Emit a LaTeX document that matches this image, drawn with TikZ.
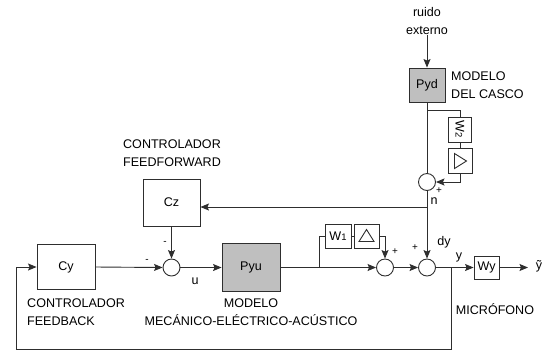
\documentclass[tikz,border=0pt]{standalone}
\usepackage{fontspec}
\setmainfont{Liberation Sans}
\usetikzlibrary{arrows.meta,positioning,calc}
\definecolor{lineGray}{HTML}{2E2E2E}
\definecolor{plantGray}{HTML}{BFBFBF}
\newcommand{\labelfont}{\fontsize{12.6}{18}\selectfont}
\newcommand{\smallsub}[1]{{\fontsize{9.5}{9.5}\selectfont #1}}
\tikzset{
  wire/.style={draw=lineGray,line width=0.9bp},
  sig/.style={wire,-{Stealth[length=8.5bp,width=7bp,inset=1.5bp]}},
  blockbox/.style={draw=lineGray,line width=0.9bp,inner sep=0pt,font=\labelfont},
  plantbox/.style={blockbox,fill=plantGray},
  sumnode/.style={circle,draw=lineGray,line width=0.9bp,minimum size=17bp,inner sep=0pt},
  caption/.style={font=\labelfont,align=left,inner sep=0pt},
  signame/.style={font=\labelfont,inner sep=1pt},
  signmark/.style={font=\fontsize{10}{10}\selectfont,inner sep=0pt},
  deltamark/.style={wire,line join=miter}
}

\begin{document}
\begin{tikzpicture}[x=1bp,y=-1bp]
  \useasboundingbox (0,0) rectangle (547,356);
  % casco
  \node[caption,align=center] (noise) at (427,21) {ruido\\externo};
  \node[plantbox,minimum width=36bp,minimum height=34bp] (pyd) at (427,85) {Pyd};
  \node[caption,anchor=west] (cascocap) at (451,85) {MODELO\\DEL CASCO};
  \node[blockbox,rotate=-90,minimum width=25bp,minimum height=23bp] (w2) at (460,129.5) {W\smallsub{2}};
  \node[blockbox,minimum width=24bp,minimum height=25bp] (dlt2) at (460,161) {};
  \draw[deltamark] ($(dlt2.center)+(-5.5,-7.5)$) -- ($(dlt2.center)+(6.5,0)$) -- ($(dlt2.center)+(-5.5,7.5)$) -- cycle;
  \node[sumnode] (sumn) at (427,182) {};
  \coordinate (w2tap) at (427,110);
  \coordinate (ntap) at (427,207);
  \draw[sig] (noise.south) -- (pyd.north);
  \draw[wire] (pyd.south) -- (sumn.north);
  \draw[wire] (w2tap) -| (w2.west);
  \draw[wire] (w2.east) -- (dlt2.north);
  \draw[sig] (dlt2.south) |- (sumn.east);
  \node[signmark] at (439,191) {+};
  \node[signame] at (434,201) {n};
  \draw[wire] (sumn.south) -- (ntap);
  % controladores
  \node[blockbox,minimum width=57bp,minimum height=47bp] (cz) at (171.5,202.5) {Cz};
  \node[caption,align=center] (ffcap) at (172,153) {CONTROLADOR\\FEEDFORWARD};
  \node[blockbox,minimum width=58bp,minimum height=45bp] (cy) at (66,267) {Cy};
  \node[caption,anchor=west] (fbcap) at (27,312) {CONTROLADOR\\FEEDBACK};
  \node[sumnode] (sumu) at (171.5,267.5) {};
  \draw[sig] (ntap) -- (ntap -| cz.east);
  \draw[sig] (cz.south) -- (sumu.north);
  \node[signmark] at (165,243) {-};
  \draw[sig] (cy.east) -- (sumu.west);
  \node[signmark] at (147,261) {-};
  % planta
  \node[plantbox,minimum width=58bp,minimum height=48bp] (pyu) at (251,267.5) {Pyu};
  \node[caption,align=center] (plantcap) at (251,312) {MODELO\\MECÁNICO-ELÉCTRICO-ACÚSTICO};
  \draw[sig] (sumu.east) -- (pyu.west);
  \node[signame] at (195,281) {u};
  \node[blockbox,minimum width=26bp,minimum height=24bp] (w1) at (338,236) {W\smallsub{1}};
  \node[blockbox,minimum width=25bp,minimum height=24bp] (dlt1) at (366.5,236) {};
  \draw[deltamark] ($(dlt1.center)+(-7.5,5.5)$) -- ($(dlt1.center)+(7.5,5.5)$) -- ($(dlt1.center)+(0,-6.5)$) -- cycle;
  \node[sumnode] (sumw) at (385,267.5) {};
  \node[sumnode] (sumd) at (427,267.5) {};
  \coordinate (w1tap) at (319,267.5);
  \draw[wire] (pyu.east) -- (w1tap);
  \draw[sig] (w1tap) -- (sumw.west);
  \draw[wire] (w1tap) |- (w1.west);
  \draw[wire] (w1.east) -- (dlt1.west);
  \draw[sig] (dlt1.east) -| (sumw.north);
  \node[signmark] at (395,252) {+};
  \draw[sig] (sumw.east) -- (sumd.west);
  \draw[sig] (ntap) -- (sumd.north);
  \node[signmark] at (415,248) {+};
  \node[signame] at (444,242) {dy};
  % microfono
  \node[blockbox,minimum width=25bp,minimum height=23bp] (wy) at (486.5,267.5) {Wy};
  \node[caption] (miccap) at (495,309) {MICRÓFONO};
  \coordinate (ytap) at (451,267.5);
  \coordinate (yout) at (528,267.5);
  \coordinate (fbcorner) at (16,349);
  \draw[wire] (sumd.east) -- (ytap);
  \draw[sig] (ytap) -- (wy.west);
  \node[signame] at (459,257) {y};
  \draw[sig] (wy.east) -- (yout);
  \node[signame] (ytilde) at (539,266) {ỹ};
  \draw[sig] (ytap) |- (fbcorner) |- (cy.west);
\end{tikzpicture}
\end{document}
